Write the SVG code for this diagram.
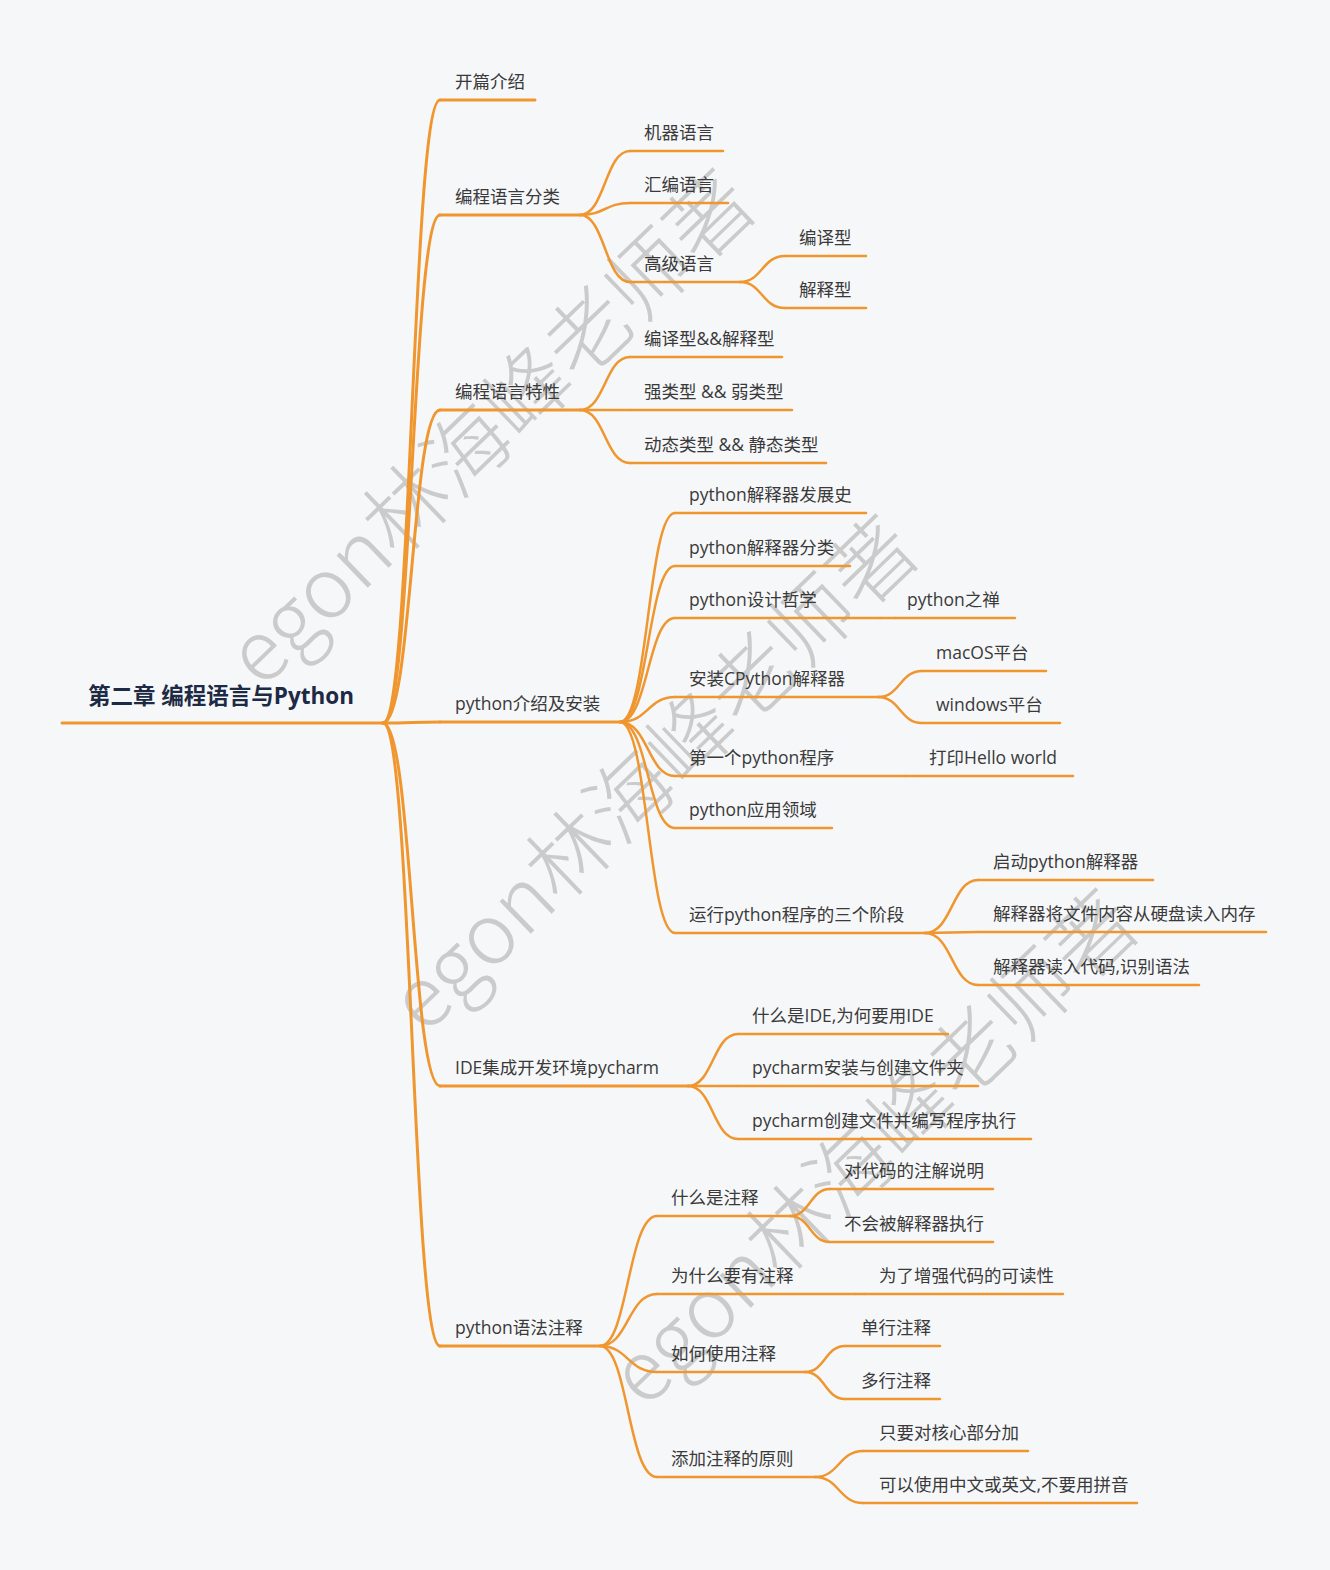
<svg xmlns="http://www.w3.org/2000/svg" width="1330" height="1570" viewBox="0 0 1330 1570">
<style>
.bg{fill:#f6f7f9}
.ln{fill:none;stroke:#f0962e;stroke-width:2.5;stroke-linecap:round}
.root-ln{fill:none;stroke:#f0962e;stroke-width:3;stroke-linecap:round}
.t{font-family:"Open Sans","Noto Sans CJK SC","Liberation Sans",sans-serif;font-size:17.5px;fill:#3a3a3a}
.title{font-family:"Open Sans","Noto Sans CJK SC","Liberation Sans",sans-serif;font-size:22.5px;font-weight:bold;fill:#1c2a44}
.wm{font-family:"Noto Sans CJK SC","Liberation Sans",sans-serif;font-size:84px;font-weight:300;fill:#cbcbcb}
</style>
<rect class="bg" x="0" y="0" width="1330" height="1570"/>

<g id="watermark">
  <text class="wm" transform="translate(262,690) rotate(-44)">egon林海峰老师著</text>
  <text class="wm" transform="translate(425,1036) rotate(-44)">egon林海峰老师著</text>
  <text class="wm" transform="translate(645,1410) rotate(-44)">egon林海峰老师著</text>
</g>

<g id="connectors">
  <path class="root-ln" d="M383,723 C412,723 412,100 440,100"/>
  <path class="root-ln" d="M383,723 C412,723 412,215 440,215"/>
  <path class="root-ln" d="M383,723 C412,723 412,410 440,410"/>
  <path class="root-ln" d="M383,723 C412,723 412,722 440,722"/>
  <path class="root-ln" d="M383,723 C412,723 412,1086 440,1086"/>
  <path class="root-ln" d="M383,723 C412,723 412,1346 440,1346"/>
  <path class="ln" d="M580,215 C605,215 605,151 630,151"/>
  <path class="ln" d="M580,215 C605,215 605,203 630,203"/>
  <path class="ln" d="M580,215 C605,215 605,282 630,282"/>
  <path class="ln" d="M740,282 C762,282 762,256 785,256"/>
  <path class="ln" d="M740,282 C762,282 762,308 785,308"/>
  <path class="ln" d="M580,410 C605,410 605,357 630,357"/>
  <path class="ln" d="M580,410 L630,410"/>
  <path class="ln" d="M580,410 C605,410 605,463 630,463"/>
  <path class="ln" d="M620,722 C648,722 648,513 675,513"/>
  <path class="ln" d="M620,722 C648,722 648,566 675,566"/>
  <path class="ln" d="M620,722 C648,722 648,618 675,618"/>
  <path class="ln" d="M620,722 C648,722 648,697 675,697"/>
  <path class="ln" d="M620,722 C648,722 648,776 675,776"/>
  <path class="ln" d="M620,722 C648,722 648,828 675,828"/>
  <path class="ln" d="M620,722 C648,722 648,933 675,933"/>
  <path class="ln" d="M880,618 L895,618"/>
  <path class="ln" d="M878,697 C900,697 900,671 922,671"/>
  <path class="ln" d="M878,697 C900,697 900,723 922,723"/>
  <path class="ln" d="M905,776 L915,776"/>
  <path class="ln" d="M925,933 C952,933 952,880 978,880"/>
  <path class="ln" d="M925,933 L978,932"/>
  <path class="ln" d="M925,933 C952,933 952,985 978,985"/>
  <path class="ln" d="M688,1086 C713,1086 713,1034 738,1034"/>
  <path class="ln" d="M688,1086 L738,1086"/>
  <path class="ln" d="M688,1086 C713,1086 713,1139 738,1139"/>
  <path class="ln" d="M600,1346 C628,1346 628,1216 657,1216"/>
  <path class="ln" d="M600,1346 C628,1346 628,1294 657,1294"/>
  <path class="ln" d="M600,1346 C628,1346 628,1372 657,1372"/>
  <path class="ln" d="M600,1346 C628,1346 628,1477 657,1477"/>
  <path class="ln" d="M790,1216 C810,1216 810,1189 830,1189"/>
  <path class="ln" d="M790,1216 C810,1216 810,1242 830,1242"/>
  <path class="ln" d="M855,1294 L865,1294"/>
  <path class="ln" d="M805,1372 C825,1372 825,1346 845,1346"/>
  <path class="ln" d="M805,1372 C825,1372 825,1399 845,1399"/>
  <path class="ln" d="M815,1477 C839,1477 839,1451 863,1451"/>
  <path class="ln" d="M815,1477 C839,1477 839,1503 863,1503"/>
</g>

<g id="root"><path class="root-ln" d="M62,723 H383"/><text class="title" x="88" y="704">第二章 编程语言与Python</text></g>

<g id="n-kaipian"><path class="root-ln" d="M440,100 H535"/><text class="t" x="455" y="88">开篇介绍</text></g>
<g id="n-fenlei"><path class="root-ln" d="M440,215 H580"/><text class="t" x="455" y="203">编程语言分类</text></g>
<g id="n-jiqi"><path class="ln" d="M630,151 H723"/><text class="t" x="644" y="139">机器语言</text></g>
<g id="n-huibian"><path class="ln" d="M630,203 H728"/><text class="t" x="644" y="191">汇编语言</text></g>
<g id="n-gaoji"><path class="ln" d="M630,282 H740"/><text class="t" x="644" y="270">高级语言</text></g>
<g id="n-bianyi"><path class="ln" d="M785,256 H866"/><text class="t" x="799" y="244">编译型</text></g>
<g id="n-jieshi"><path class="ln" d="M785,308 H866"/><text class="t" x="799" y="296">解释型</text></g>

<g id="n-texing"><path class="root-ln" d="M440,410 H580"/><text class="t" x="455" y="398">编程语言特性</text></g>
<g id="n-t1"><path class="ln" d="M630,357 H782"/><text class="t" x="644" y="345">编译型&amp;&amp;解释型</text></g>
<g id="n-t2"><path class="ln" d="M630,410 H792"/><text class="t" x="644" y="398">强类型 &amp;&amp; 弱类型</text></g>
<g id="n-t3"><path class="ln" d="M630,463 H826"/><text class="t" x="644" y="451">动态类型 &amp;&amp; 静态类型</text></g>

<g id="n-python"><path class="root-ln" d="M440,722 H620"/><text class="t" x="455" y="710">python介绍及安装</text></g>
<g id="n-p1"><path class="ln" d="M675,513 H866"/><text class="t" x="689" y="501">python解释器发展史</text></g>
<g id="n-p2"><path class="ln" d="M675,566 H850"/><text class="t" x="689" y="554">python解释器分类</text></g>
<g id="n-p3"><path class="ln" d="M675,618 H880"/><text class="t" x="689" y="606">python设计哲学</text></g>
<g id="n-p3a"><path class="ln" d="M895,618 H1015"/><text class="t" x="907" y="606">python之禅</text></g>
<g id="n-p4"><path class="ln" d="M675,697 H878"/><text class="t" x="689" y="685">安装CPython解释器</text></g>
<g id="n-p4a"><path class="ln" d="M922,671 H1046"/><text class="t" x="936" y="659">macOS平台</text></g>
<g id="n-p4b"><path class="ln" d="M922,723 H1060"/><text class="t" x="936" y="711">windows平台</text></g>
<g id="n-p5"><path class="ln" d="M675,776 H905"/><text class="t" x="689" y="764">第一个python程序</text></g>
<g id="n-p5a"><path class="ln" d="M915,776 H1073"/><text class="t" x="929" y="764">打印Hello world</text></g>
<g id="n-p6"><path class="ln" d="M675,828 H832"/><text class="t" x="689" y="816">python应用领域</text></g>
<g id="n-p7"><path class="ln" d="M675,933 H925"/><text class="t" x="689" y="921">运行python程序的三个阶段</text></g>
<g id="n-p7a"><path class="ln" d="M978,880 H1153"/><text class="t" x="993" y="868">启动python解释器</text></g>
<g id="n-p7b"><path class="ln" d="M978,932 H1266"/><text class="t" x="993" y="920">解释器将文件内容从硬盘读入内存</text></g>
<g id="n-p7c"><path class="ln" d="M978,985 H1199"/><text class="t" x="993" y="973">解释器读入代码,识别语法</text></g>

<g id="n-ide"><path class="root-ln" d="M440,1086 H688"/><text class="t" x="455" y="1074">IDE集成开发环境pycharm</text></g>
<g id="n-i1"><path class="ln" d="M738,1034 H948"/><text class="t" x="752" y="1022">什么是IDE,为何要用IDE</text></g>
<g id="n-i2"><path class="ln" d="M738,1086 H978"/><text class="t" x="752" y="1074">pycharm安装与创建文件夹</text></g>
<g id="n-i3"><path class="ln" d="M738,1139 H1031"/><text class="t" x="752" y="1127">pycharm创建文件并编写程序执行</text></g>

<g id="n-zhushi"><path class="root-ln" d="M440,1346 H600"/><text class="t" x="455" y="1334">python语法注释</text></g>
<g id="n-z1"><path class="ln" d="M657,1216 H790"/><text class="t" x="671" y="1204">什么是注释</text></g>
<g id="n-z1a"><path class="ln" d="M830,1189 H993"/><text class="t" x="844" y="1177">对代码的注解说明</text></g>
<g id="n-z1b"><path class="ln" d="M830,1242 H993"/><text class="t" x="844" y="1230">不会被解释器执行</text></g>
<g id="n-z2"><path class="ln" d="M657,1294 H855"/><text class="t" x="671" y="1282">为什么要有注释</text></g>
<g id="n-z2a"><path class="ln" d="M865,1294 H1063"/><text class="t" x="879" y="1282">为了增强代码的可读性</text></g>
<g id="n-z3"><path class="ln" d="M657,1372 H805"/><text class="t" x="671" y="1360">如何使用注释</text></g>
<g id="n-z3a"><path class="ln" d="M845,1346 H940"/><text class="t" x="861" y="1334">单行注释</text></g>
<g id="n-z3b"><path class="ln" d="M845,1399 H940"/><text class="t" x="861" y="1387">多行注释</text></g>
<g id="n-z4"><path class="ln" d="M657,1477 H815"/><text class="t" x="671" y="1465">添加注释的原则</text></g>
<g id="n-z4a"><path class="ln" d="M863,1451 H1028"/><text class="t" x="879" y="1439">只要对核心部分加</text></g>
<g id="n-z4b"><path class="ln" d="M863,1503 H1137"/><text class="t" x="879" y="1491">可以使用中文或英文,不要用拼音</text></g>
</svg>
